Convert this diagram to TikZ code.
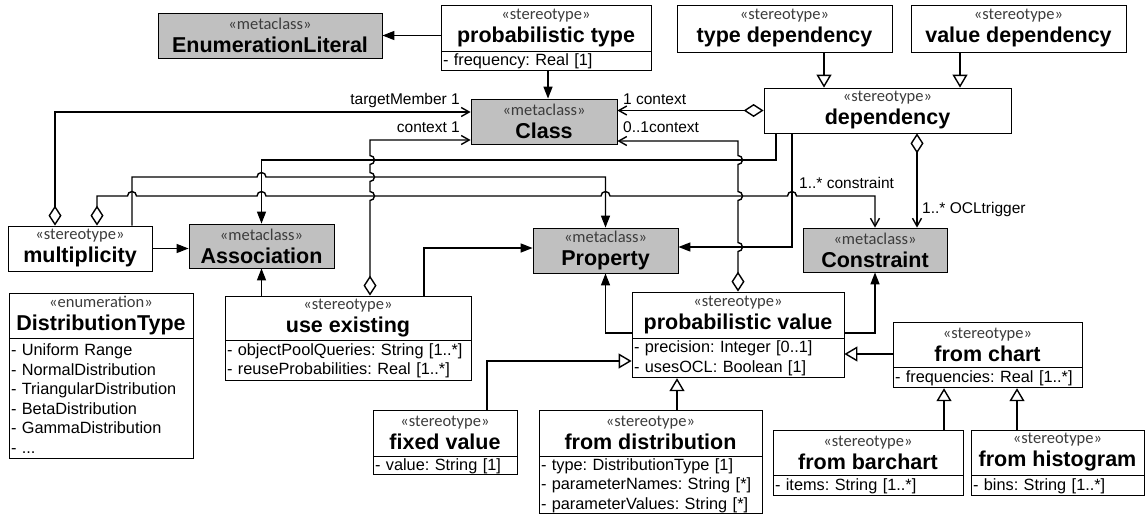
\documentclass[tikz,border=0pt]{standalone}
\usepackage{fontspec}
\setmainfont{Liberation Sans}
\newfontfamily\stfont{Carlito}
\usetikzlibrary{arrows.meta,positioning}
\definecolor{metagray}{RGB}{192,192,192}
\definecolor{stgray}{RGB}{60,60,60}
\frenchspacing
% stereotype line over bold class name
\newcommand{\umlhead}[2]{{\stfont\fontsize{16.5}{23}\selectfont\color{stgray}«#1»}\\\textbf{#2}}

\begin{document}
\begin{tikzpicture}[x=1pt, y=-1pt,
    box/.style={draw, line width=0.8pt, fill=white, align=center, inner sep=0pt,
        font=\fontsize{21.5}{23}\selectfont},
    meta/.style={box, fill=metagray},
    attrs/.style={draw, line width=0.8pt, fill=white, align=left, inner xsep=2pt, inner ysep=0pt,
        font=\fontsize{16.3}{19.5}\selectfont},
    conn/.style={line width=1.4pt},
    ext/.style={conn, -{Triangle[length=12pt,width=9pt]}},
    gen/.style={conn, -{Triangle[open,length=13pt,width=15pt]}},
    agg/.style={conn, {Diamond[open,length=20pt,width=13pt]}-{Straight Barb[length=8pt,width=9pt]}},
    role/.style={font=\fontsize{15.5}{18}\selectfont, inner sep=0pt}
]
    \useasboundingbox (0,0) rectangle (1145,514);

    % Metaclasses
    \node[meta, minimum width=224pt, minimum height=45pt] (enumlit) at (270,35.5) {\umlhead{metaclass}{EnumerationLiteral}};
    \node[meta, minimum width=146pt, minimum height=45pt] (class) at (544,121.5) {\umlhead{metaclass}{Class}};
    \node[meta, minimum width=145pt, minimum height=44pt] (assoc) at (261.5,246) {\umlhead{metaclass}{Association}};
    \node[meta, minimum width=145pt, minimum height=45pt] (prop) at (605.5,250.5) {\umlhead{metaclass}{Property}};
    \node[meta, minimum width=144pt, minimum height=44pt] (cons) at (875,250) {\umlhead{metaclass}{Constraint}};

    % Stereotypes, top row
    \node[box, minimum width=210pt, minimum height=46pt] (ptype) at (546,28) {\umlhead{stereotype}{probabilistic type}};
    \node[attrs, text width=206pt, minimum height=19pt, below=0pt of ptype] (ptypeA) {- frequency: Real [1]};
    \node[box, minimum width=215pt, minimum height=47pt] (tdep) at (784.5,28.5) {\umlhead{stereotype}{type dependency}};
    \node[box, minimum width=215pt, minimum height=47pt] (vdep) at (1018.5,28.5) {\umlhead{stereotype}{value dependency}};
    \node[box, minimum width=247pt, minimum height=45pt] (dep) at (887.5,110.5) {\umlhead{stereotype}{dependency}};

    % Stereotypes, middle row
    \node[box, minimum width=144pt, minimum height=45pt] (mult) at (80,248.5) {\umlhead{stereotype}{multiplicity}};
    \node[box, minimum width=246pt, minimum height=44pt] (uexist) at (348,318) {\umlhead{stereotype}{use existing}};
    \node[attrs, text width=242pt, minimum height=40pt, below=0pt of uexist] (uexistA)
        {- objectPoolQueries: String [1..*]\\- reuseProbabilities: Real [1..*]};
    \node[box, minimum width=212pt, minimum height=46pt] (pval) at (738,315) {\umlhead{stereotype}{probabilistic value}};
    \node[attrs, text width=208pt, minimum height=39pt, below=0pt of pval] (pvalA)
        {- precision: Integer [0..1]\\- usesOCL: Boolean [1]};
    \node[box, minimum width=189pt, minimum height=45pt] (chart) at (987.5,344.5) {\umlhead{stereotype}{from chart}};
    \node[attrs, text width=185pt, minimum height=20pt, below=0pt of chart] (chartA) {- frequencies: Real [1..*]};

    % Enumeration
    \node[box, minimum width=184pt, minimum height=45pt] (dtype) at (101,315.5) {\umlhead{enumeration}{DistributionType}};
    \node[attrs, text width=180pt, minimum height=120pt, below=0pt of dtype] (dtypeA)
        {- Uniform Range\\- NormalDistribution\\- TriangularDistribution\\- BetaDistribution\\- GammaDistribution\\- ...};

    % Stereotypes, bottom row
    \node[box, minimum width=144pt, minimum height=46pt] (fixed) at (445,433) {\umlhead{stereotype}{fixed value}};
    \node[attrs, text width=140pt, minimum height=18pt, below=0pt of fixed] (fixedA) {- value: String [1]};
    \node[box, minimum width=223pt, minimum height=46pt] (fdist) at (650.5,433) {\umlhead{stereotype}{from distribution}};
    \node[attrs, text width=219pt, minimum height=57pt, below=0pt of fdist] (fdistA)
        {- type: DistributionType [1]\\- parameterNames: String [*]\\- parameterValues: String [*]};
    \node[box, minimum width=190pt, minimum height=45pt] (bar) at (868,452.5) {\umlhead{stereotype}{from barchart}};
    \node[attrs, text width=186pt, minimum height=20pt, below=0pt of bar] (barA) {- items: String [1..*]};
    \node[box, minimum width=173pt, minimum height=45pt] (histo) at (1057.5,452.5) {\umlhead{stereotype}{from histogram}};
    \node[attrs, text width=169pt, minimum height=20pt, below=0pt of histo] (histoA) {- bins: String [1..*]};

    % Extensions
    \draw[ext] (ptype.west |- enumlit.east) -- (enumlit.east);
    \draw[ext] (548,0 |- ptypeA.south) -- (548,0 |- class.north);
    \draw[ext] (mult.east) -- (mult.east -| assoc.west);
    \draw[ext] (132,0 |- mult.north) -- (132,177)
        -- (257,177) arc[start angle=180, end angle=0, radius=4.5pt]
        -- (prop.north |- 0,177) -- (prop.north);
    \draw[ext] (776,0 |- dep.south) -- (776,160) -- (assoc.north |- 0,160) -- (assoc.north);
    \draw[ext] (792,0 |- dep.south) -- (792,247) -- (prop.east |- 0,247);
    \draw[ext] (assoc.south |- uexist.north) -- (assoc.south);
    \draw[ext] (424,0 |- uexist.north) -- (424,248) -- (prop.west |- 0,248);
    \draw[ext] (pval.west |- 0,333) -- (prop.south |- 0,333) -- (prop.south);
    \draw[ext] (pval.east |- 0,333) -- (cons.south |- 0,333) -- (cons.south);

    % Aggregations
    \draw[agg] (55,0 |- mult.north) -- (55,112) -- (class.west |- 0,112);
    \draw[agg] (97,0 |- mult.north) -- (97,196)
        -- (127.5,196) arc[start angle=180, end angle=0, radius=4.5pt]
        -- (257,196) arc[start angle=180, end angle=0, radius=4.5pt]
        -- (601,196) arc[start angle=180, end angle=0, radius=4.5pt]
        -- (787.5,196) arc[start angle=180, end angle=0, radius=4.5pt]
        -- (cons.north |- 0,196) -- (cons.north);
    \draw[agg] (370,0 |- uexist.north)
        -- (370,200.5) arc[start angle=-90, end angle=90, radius=4.5pt]
        -- (370,181.5) arc[start angle=-90, end angle=90, radius=4.5pt]
        -- (370,164.5) arc[start angle=-90, end angle=90, radius=4.5pt]
        -- (370,140) -- (class.west |- 0,140);
    \draw[agg] (dep.west) -- (dep.west -| class.east);
    \draw[agg] (pval.north)
        -- (738,251.5) arc[start angle=-90, end angle=90, radius=4.5pt]
        -- (738,200.5) arc[start angle=-90, end angle=90, radius=4.5pt]
        -- (738,164.5) arc[start angle=-90, end angle=90, radius=4.5pt]
        -- (738,141) -- (class.east |- 0,141);
    \draw[agg] (917,0 |- dep.south) -- (917,0 |- cons.north);

    % Role labels
    \node[role, anchor=base east] (lbltarget) at (460,104) {targetMember 1};
    \node[role, anchor=base east] (lblctxa) at (460,132) {context 1};
    \node[role, anchor=base west] (lblctxb) at (623,104) {1 context};
    \node[role, anchor=base west] (lblctxc) at (623,132) {0..1context};
    \node[role, anchor=base west] (lblcons) at (799,188) {1..* constraint};
    \node[role, anchor=base west] (lblocl) at (922,213) {1..* OCLtrigger};

    % Generalizations
    \draw[gen] (824,0 |- tdep.south) -- (824,0 |- dep.north);
    \draw[gen] (960,0 |- vdep.south) -- (960,0 |- dep.north);
    \draw[gen] (chart.west |- 0,354) -- (pval.east |- 0,354);
    \draw[gen] (487,0 |- fixed.north) -- (487,361) -- (pval.west |- 0,361);
    \draw[gen] (677,0 |- fdist.north) -- (677,0 |- pvalA.south);
    \draw[gen] (944,0 |- bar.north) -- (944,0 |- chartA.south);
    \draw[gen] (1017,0 |- histo.north) -- (1017,0 |- chartA.south);
\end{tikzpicture}
\end{document}
